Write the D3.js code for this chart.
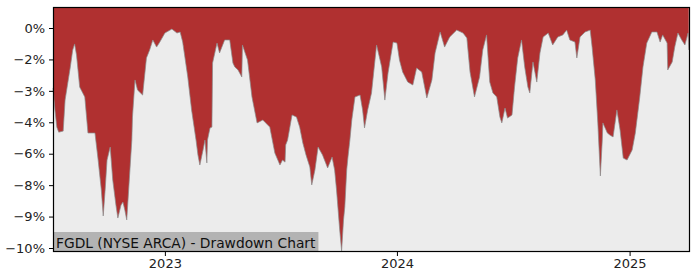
<!DOCTYPE html>
<html><head><meta charset="utf-8">
<script src="https://cdn.jsdelivr.net/npm/d3@7"></script>
<style>body{margin:0;background:#fff}svg{display:block;font-family:"DejaVu Sans",sans-serif}</style>
</head><body><svg id="c" width="700" height="280"></svg>
<script>
const title = "FGDL (NYSE ARCA) - Drawdown Chart";
const dates = ["2022-07-09","2022-07-12","2022-07-15","2022-07-18","2022-07-25","2022-07-28","2022-08-02","2022-08-05","2022-08-09","2022-08-12","2022-08-15","2022-08-20","2022-08-28","2022-09-02","2022-09-13","2022-09-18","2022-09-23","2022-09-26","2022-09-29","2022-10-02","2022-10-07","2022-10-11","2022-10-16","2022-10-19","2022-10-24","2022-10-27","2022-10-30","2022-11-02","2022-11-05","2022-11-10","2022-11-11","2022-11-15","2022-11-19","2022-11-27","2022-12-03","2022-12-08","2022-12-13","2022-12-19","2022-12-24","2023-01-01","2023-01-12","2023-01-20","2023-01-25","2023-01-29","2023-02-06","2023-02-12","2023-02-19","2023-02-22","2023-02-25","2023-03-02","2023-03-05","2023-03-08","2023-03-09","2023-03-13","2023-03-16","2023-03-17","2023-03-24","2023-03-28","2023-04-05","2023-04-13","2023-04-18","2023-04-21","2023-04-26","2023-05-02","2023-05-03","2023-05-11","2023-05-18","2023-05-26","2023-06-04","2023-06-15","2023-06-23","2023-07-01","2023-07-05","2023-07-09","2023-07-10","2023-07-13","2023-07-20","2023-07-27","2023-08-01","2023-08-06","2023-08-11","2023-08-17","2023-08-20","2023-08-25","2023-08-30","2023-09-06","2023-09-14","2023-09-21","2023-09-25","2023-09-28","2023-10-03","2023-10-06","2023-10-09","2023-10-11","2023-10-14","2023-10-16","2023-10-19","2023-10-22","2023-10-27","2023-11-04","2023-11-08","2023-11-11","2023-11-16","2023-11-22","2023-11-30","2023-12-08","2023-12-13","2023-12-18","2023-12-26","2024-01-01","2024-01-05","2024-01-10","2024-01-18","2024-01-26","2024-02-01","2024-02-09","2024-02-17","2024-02-25","2024-03-01","2024-03-09","2024-03-16","2024-03-24","2024-04-04","2024-04-14","2024-04-20","2024-04-25","2024-05-02","2024-05-10","2024-05-15","2024-05-21","2024-05-26","2024-05-31","2024-06-06","2024-06-11","2024-06-14","2024-06-19","2024-06-23","2024-06-30","2024-07-04","2024-07-09","2024-07-15","2024-07-20","2024-07-25","2024-07-28","2024-08-02","2024-08-08","2024-08-13","2024-08-18","2024-08-26","2024-09-02","2024-09-10","2024-09-18","2024-09-24","2024-09-29","2024-10-07","2024-10-10","2024-10-15","2024-10-23","2024-10-31","2024-11-03","2024-11-08","2024-11-12","2024-11-16","2024-11-19","2024-11-20","2024-11-27","2024-12-01","2024-12-06","2024-12-12","2024-12-17","2024-12-22","2024-12-28","2025-01-05","2025-01-10","2025-01-17","2025-01-22","2025-01-28","2025-02-05","2025-02-13","2025-02-18","2025-02-22","2025-03-01","2025-03-02","2025-03-09","2025-03-13","2025-03-18","2025-03-24","2025-03-29","2025-04-03","2025-04-04"];
const drawdown = [-2.86,-3.91,-4.73,-4.97,-4.92,-3.44,-2.48,-1.91,-1.05,-0.76,-1.29,-2.82,-3.29,-5.01,-5.01,-6.30,-7.73,-8.97,-7.73,-6.30,-5.68,-7.26,-8.45,-9.07,-8.45,-8.31,-8.69,-9.16,-7.73,-5.35,-4.25,-2.48,-2.96,-3.20,-1.43,-1.05,-0.57,-0.91,-0.67,-0.24,-0.05,-0.24,-0.19,-0.67,-2.34,-3.91,-5.35,-6.06,-6.54,-5.82,-5.35,-6.44,-5.35,-4.77,-4.73,-1.67,-0.72,-1.19,-0.57,-0.57,-1.67,-1.86,-2.00,-2.34,-0.81,-1.53,-3.29,-4.53,-4.39,-4.73,-5.97,-6.54,-6.30,-6.40,-5.58,-5.35,-4.15,-4.25,-4.73,-5.49,-6.06,-6.63,-7.49,-6.78,-5.68,-6.06,-6.68,-6.16,-6.78,-7.73,-9.64,-10.64,-9.16,-8.54,-6.78,-6.16,-5.35,-4.39,-3.29,-3.20,-3.91,-4.77,-3.91,-3.10,-0.81,-1.86,-3.44,-2.15,-0.67,-0.72,-1.53,-2.10,-2.58,-2.72,-1.91,-2.10,-3.34,-2.48,-1.19,-0.19,-0.91,-0.43,-0.10,-0.24,-0.48,-2.10,-3.29,-2.34,-1.05,-0.33,-2.58,-3.10,-3.29,-4.25,-4.53,-3.82,-4.30,-4.15,-2.82,-1.43,-0.57,-1.86,-2.82,-3.10,-1.62,-2.58,-1.19,-0.43,-0.24,-0.81,-0.43,-0.33,-0.10,-0.57,-0.67,-1.43,-0.43,-0.19,-0.10,-0.91,-2.48,-4.53,-7.06,-5.35,-4.53,-5.01,-5.11,-5.20,-3.91,-4.87,-6.21,-6.30,-5.82,-5.01,-3.29,-1.86,-0.72,-0.19,-0.19,-0.67,-0.33,-0.72,-2.00,-1.62,-0.91,-0.24,-0.57,-0.81,-0.24,-1.05];
const yTickValues = [0,-1.5,-3,-4.5,-6,-7.5,-9,-10.5];
const yTickLabels = ["0%","−2%","−3%","−4%","−6%","−8%","−9%","−10%"];
const xTickDates = ["2023-01-01","2024-01-01","2025-01-01"];
const xTickLabels = ["2023","2024","2025"];

const parse = d3.utcParse("%Y-%m-%d");
const data = dates.map((d,i)=>({date:parse(d), v:drawdown[i]}));

const L=53, R=690, T=7, B=252;
const x = d3.scaleUtc().domain([parse("2022-07-09"), parse("2025-04-06")]).range([L,R]);
const y = d3.scaleLinear().domain([-10.5,0]).range([248,28]);
const svg = d3.select("#c");

svg.append("rect").attr("x",L).attr("y",T).attr("width",R-L).attr("height",B-T).attr("fill","#ececec");

svg.append("path").datum(data)
  .attr("d", d3.area().x(d=>x(d.date)).y0(T).y1(d=>y(d.v)))
  .attr("fill","#b03030");
svg.append("path").datum(data)
  .attr("d", d3.line().x(d=>x(d.date)).y(d=>y(d.v)))
  .attr("fill","none").attr("stroke","#8a8a8a").attr("stroke-width",1).attr("stroke-opacity",0.7);

// label
const lg = svg.append("g");
const lbox = lg.append("rect").attr("x",L).attr("y",232).attr("height",B-232).attr("fill","#b3b3b3");
const lt = lg.append("text").attr("x",L+3).attr("y",247.5).attr("font-size",13.8).attr("fill","#111").text(title);
lbox.attr("width", lt.node().getComputedTextLength()+6);

// axes
const ya = svg.append("g").attr("transform",`translate(${L},0)`)
  .call(d3.axisLeft(y).tickValues(yTickValues).tickFormat((d,i)=>yTickLabels[i]).tickSize(4).tickPadding(4));
const xa = svg.append("g").attr("transform",`translate(0,${B})`)
  .call(d3.axisBottom(x).tickValues(xTickDates.map(parse)).tickFormat((d,i)=>xTickLabels[i]).tickSize(4).tickPadding(3));
[ya,xa].forEach(g=>{g.select(".domain").remove(); g.selectAll("text").attr("font-size",13).attr("fill","#222").attr("font-family","DejaVu Sans"); g.selectAll("line").attr("stroke","#000");});

svg.append("rect").attr("x",L+0.5).attr("y",T+0.5).attr("width",R-L-1).attr("height",B-T-1)
  .attr("fill","none").attr("stroke","#000").attr("stroke-width",1.2);
</script></body></html>
